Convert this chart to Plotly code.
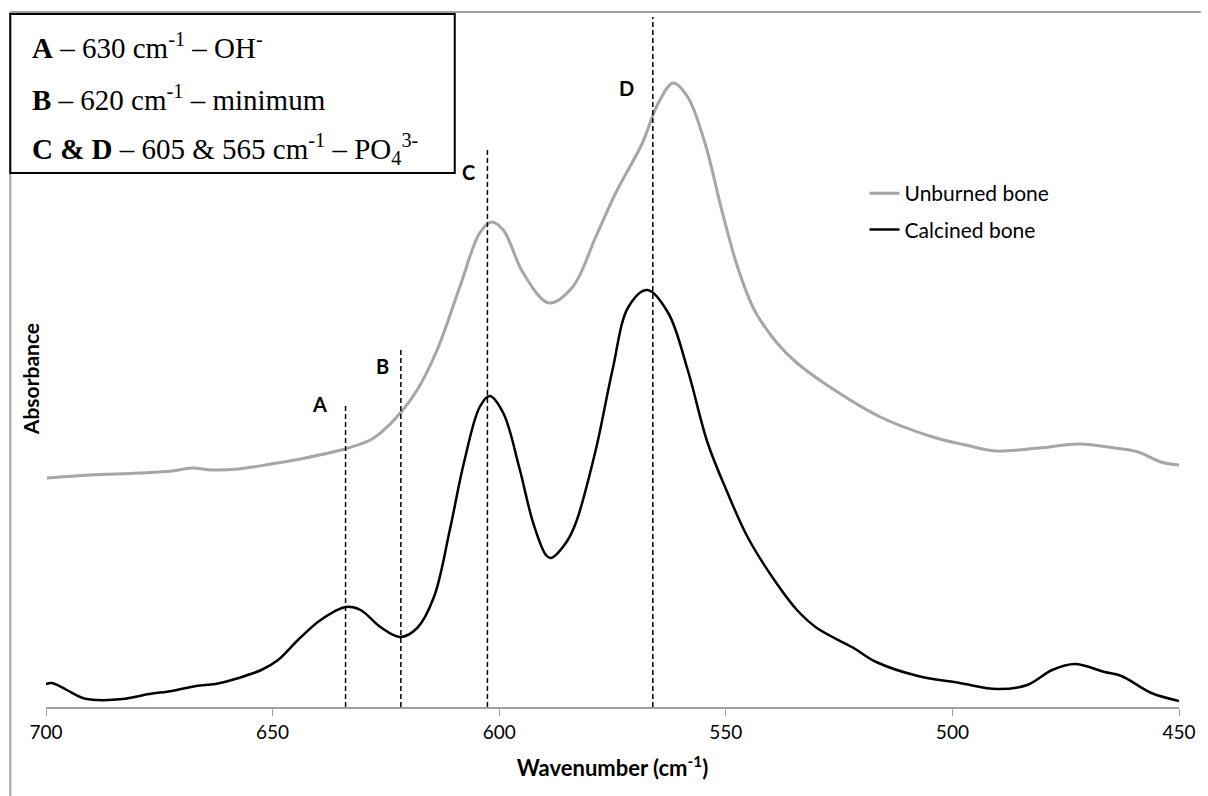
import plotly.graph_objects as go

# ---- data ----
calcined_wn = [700.0, 698.7, 695.4, 691.9, 688.8, 683.1, 677.2, 672.2, 666.9, 662.6, 657.5, 652.5,
               648.8, 644.4, 639.4, 633.9, 630.6, 626.2, 621.8, 618.1, 614.4, 610.9, 607.8, 604.3,
               602.1, 599.1, 595.6, 592.5, 589.7, 588.6, 585.3, 583.1, 578.7, 575.0, 571.5, 567.3,
               562.7, 558.4, 554.0, 549.6, 545.2, 539.3, 534.3, 529.9, 521.8, 516.8, 507.6, 498.4,
               490.1, 483.5, 478.0, 473.0, 466.4, 462.7, 456.1, 450.0]
calcined_abs = [0.046, 0.048, 0.034, 0.018, 0.014, 0.016, 0.026, 0.032, 0.042, 0.046, 0.058, 0.074,
                0.094, 0.134, 0.174, 0.200, 0.194, 0.160, 0.140, 0.158, 0.220, 0.354, 0.488, 0.600,
                0.622, 0.588, 0.480, 0.368, 0.304, 0.298, 0.328, 0.368, 0.514, 0.674, 0.800, 0.834,
                0.788, 0.674, 0.528, 0.428, 0.340, 0.254, 0.194, 0.158, 0.118, 0.090, 0.062, 0.048,
                0.036, 0.044, 0.074, 0.086, 0.070, 0.062, 0.028, 0.012]

unburned_wn = [699.8, 690.4, 679.4, 672.2, 667.8, 663.4, 657.5, 650.3, 642.8, 634.1, 628.4, 626.2,
               621.8, 618.1, 613.7, 608.7, 604.3, 601.7, 599.1, 594.7, 589.0, 583.8, 578.7, 574.3,
               568.4, 564.9, 561.6, 558.4, 554.6, 550.9, 547.4, 543.7, 538.7, 534.3, 527.7, 515.9,
               504.3, 497.1, 490.5, 480.9, 472.1, 464.2, 459.0, 454.0, 450.0]
unburned_abs = [0.458, 0.464, 0.468, 0.472, 0.478, 0.474, 0.476, 0.486, 0.498, 0.516, 0.534, 0.548,
                0.588, 0.634, 0.714, 0.840, 0.948, 0.970, 0.954, 0.868, 0.808, 0.840, 0.940, 1.028,
                1.128, 1.208, 1.248, 1.220, 1.128, 0.994, 0.880, 0.794, 0.728, 0.688, 0.644, 0.580,
                0.540, 0.524, 0.512, 0.518, 0.526, 0.518, 0.510, 0.490, 0.484]

marker_labels = ["A", "B", "C", "D"]
marker_wn = [633.9, 621.7, 602.6, 566.1]
marker_top = [0.608, 0.718, 1.120, 1.380]
label_wn = [639.6, 625.8, 606.7, 571.9]
label_abs = [0.606, 0.682, 1.070, 1.238]

tick_vals = [700, 650, 600, 550, 500, 450]
box_lines = [
    "<b>A</b> – 630 cm<sup>-1</sup> – OH<sup>-</sup>",
    "<b>B</b> – 620 cm<sup>-1</sup> – minimum",
    "<b>C &amp; D</b> – 605 &amp; 565 cm<sup>-1</sup> – PO<sub>4</sub><sup>3-</sup>",
]

W, H = 1208, 796
ML, MR, MT, MB = 46, 20, 12, 89
PW, PH = W - ML - MR, H - MT - MB


def px2paper_x(px):
    return (px - ML) / PW


def py2paper_y(py):
    return (H - MB - py) / PH


FONT = "Lato"

fig = go.Figure()
fig.add_trace(go.Scatter(x=unburned_wn, y=unburned_abs, mode="lines", name="Unburned bone",
                         line=dict(color="#a6a6a6", width=3, shape="spline", smoothing=1.0),
                         legendgroup="u"))
fig.add_trace(go.Scatter(x=calcined_wn, y=calcined_abs, mode="lines", name="Calcined bone",
                         line=dict(color="#000000", width=2.5, shape="spline", smoothing=1.0),
                         legendgroup="c"))

shapes = []
for wn, top in zip(marker_wn, marker_top):
    shapes.append(dict(type="line", xref="x", yref="y", x0=wn, x1=wn, y0=0, y1=top,
                       line=dict(color="#000000", width=1.5, dash="5px,3px"), layer="above"))

# outer chart frame (top and left edges)
shapes.append(dict(type="line", xref="paper", yref="paper", x0=px2paper_x(10), x1=px2paper_x(1210),
                   y0=py2paper_y(12), y1=py2paper_y(12), line=dict(color="#a0a0a0", width=2)))
shapes.append(dict(type="line", xref="paper", yref="paper", x0=px2paper_x(10), x1=px2paper_x(10),
                   y0=py2paper_y(12), y1=py2paper_y(800), line=dict(color="#a0a0a0", width=2)))
# annotation box
shapes.append(dict(type="rect", xref="paper", yref="paper", x0=px2paper_x(10), x1=px2paper_x(458),
                   y0=py2paper_y(173), y1=py2paper_y(14), fillcolor="white",
                   line=dict(color="#000000", width=2), layer="above"))

annotations = []
for lab, wn, a in zip(marker_labels, label_wn, label_abs):
    annotations.append(dict(x=wn, y=a, xref="x", yref="y", text=f"<b>{lab}</b>", showarrow=False,
                            font=dict(family=FONT, size=20, color="#000000")))

for i, t in enumerate(box_lines):
    annotations.append(dict(x=px2paper_x(30), y=py2paper_y([46, 98, 149][i]), xref="paper", yref="paper",
                            xanchor="left", yanchor="middle", text=t, showarrow=False,
                            font=dict(family="Liberation Serif", size=29, color="#000000")))

# y-axis title (placed like the reference, slightly below the plot centre)
annotations.append(dict(x=px2paper_x(30), y=py2paper_y(379), xref="paper", yref="paper",
                        text="<b>Absorbance</b>", textangle=-90, showarrow=False,
                        xanchor="center", yanchor="middle",
                        font=dict(family=FONT, size=21, color="#000000")))

fig.update_layout(
    width=W, height=H, autosize=False,
    margin=dict(l=ML, r=MR, t=MT, b=MB),
    paper_bgcolor="white", plot_bgcolor="white",
    shapes=shapes, annotations=annotations,
    showlegend=True,
    legend=dict(x=px2paper_x(871), y=py2paper_y(173), xanchor="left", yanchor="top",
                bgcolor="rgba(0,0,0,0)", font=dict(family=FONT, size=21, color="#000000"),
                tracegroupgap=6, itemwidth=30),
    xaxis=dict(range=[700, 450], tickvals=tick_vals, ticks="outside", ticklen=7, tickcolor="#a0a0a0",
               showline=True, linecolor="#a0a0a0", linewidth=1.5, showgrid=False, zeroline=False,
               tickfont=dict(family=FONT, size=19, color="#000000"),
               title=dict(text="<b>Wavenumber (cm<sup>-1</sup>)</b>", standoff=19,
                          font=dict(family=FONT, size=22, color="#000000"))),
    yaxis=dict(range=[0, PH * 0.002], showticklabels=False, showgrid=False, zeroline=False,
               showline=False, ticks=""),
)

fig.write_html("out.html")
